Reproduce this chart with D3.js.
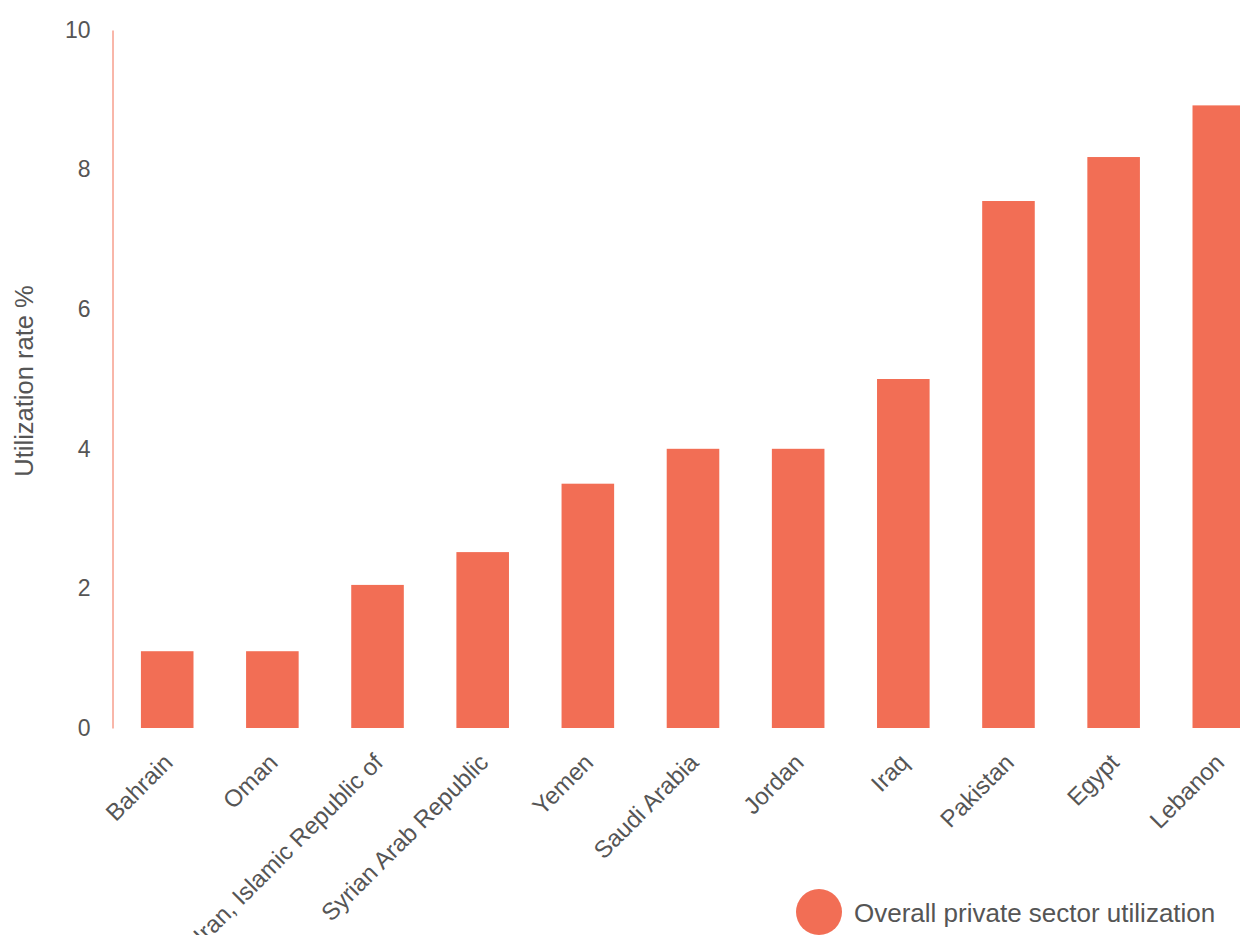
<!DOCTYPE html>
<style>
body { margin: 0; background: #fff; }
svg { display: block; font-family: "Liberation Sans", Arial, sans-serif; }
</style>
<svg width="1240" height="935"></svg>
<script src="https://d3js.org/d3.v7.min.js"></script>
<script>
const countries = ['Bahrain', 'Oman', 'Iran, Islamic Republic of', 'Syrian Arab Republic', 'Yemen',
  'Saudi Arabia', 'Jordan', 'Iraq', 'Pakistan', 'Egypt', 'Lebanon'];
const utilization = [1.1, 1.1, 2.05, 2.52, 3.5, 4.0, 4.0, 5.0, 7.55, 8.18, 8.92];
const yTicks = [0, 2, 4, 6, 8, 10];
const seriesName = 'Overall private sector utilization';

const svg = d3.select('svg');
const barColor = '#f26e55',
      textColor = '#555';

const x = d3.scaleBand().domain(countries).range([112, 1274]).paddingInner(0.5).paddingOuter(0.275);
const y = d3.scaleLinear().domain([0, 10]).range([728, 30]);

// bars
svg.append('g')
  .selectAll('rect')
  .data(countries)
  .enter()
  .append('rect')
  .attr('x', d => x(d))
  .attr('y', (d, i) => y(utilization[i]))
  .attr('width', x.bandwidth())
  .attr('height', (d, i) => y(0) - y(utilization[i]))
  .attr('fill', barColor);

// y axis
const yAxis = svg.append('g')
  .attr('transform', 'translate(112.5,0)')
  .call(d3.axisLeft(y).tickValues(yTicks).tickSize(0).tickPadding(22));
yAxis.select('.domain').attr('stroke', barColor).attr('stroke-width', 1);
yAxis.selectAll('text')
  .attr('fill', textColor)
  .style('font-size', '23px')
  .style('font-family', '"Liberation Sans", Arial, sans-serif');

// x labels
svg.append('g')
  .selectAll('text')
  .data(countries)
  .enter()
  .append('text')
  .attr('transform', d => `translate(${x(d) + x.bandwidth() / 2 + 1},${758}) rotate(-45)`)
  .attr('text-anchor', 'end')
  .attr('dy', '0.35em')
  .attr('fill', textColor)
  .style('font-size', '24px')
  .text(d => d);

// y title
svg.append('text')
  .attr('transform', 'translate(33,381) rotate(-90)')
  .attr('text-anchor', 'middle')
  .attr('fill', textColor)
  .style('font-size', '25.5px')
  .text('Utilization rate %');

// legend
svg.append('circle')
  .attr('cx', 819)
  .attr('cy', 912)
  .attr('r', 23)
  .attr('fill', barColor);
svg.append('text')
  .attr('x', 854)
  .attr('y', 922)
  .attr('fill', textColor)
  .style('font-size', '26px')
  .text(seriesName);
</script>
